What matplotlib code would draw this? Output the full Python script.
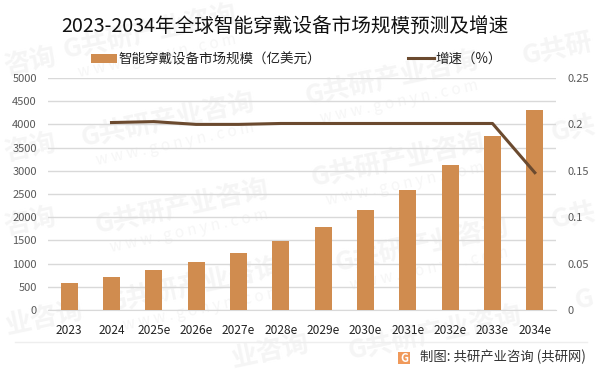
import matplotlib
matplotlib.use("Agg")
import matplotlib.pyplot as plt
from matplotlib.patches import FancyBboxPatch
import numpy as np

plt.rcParams['font.family'] = ['Noto Sans CJK SC', 'DejaVu Sans']

years = ['2023', '2024', '2025e', '2026e', '2027e', '2028e', '2029e', '2030e',
         '2031e', '2032e', '2033e', '2034e']
market_size = [590, 720, 865, 1035, 1230, 1487, 1790, 2155, 2590, 3115, 3750, 4310]
growth = [np.nan, 0.202, 0.203, 0.2, 0.2, 0.201, 0.201, 0.201, 0.201, 0.201, 0.201, 0.148]
left_ticks = [0, 500, 1000, 1500, 2000, 2500, 3000, 3500, 4000, 4500, 5000]
right_ticks = [0, 0.05, 0.1, 0.15, 0.2, 0.25]
right_labels = ['0', '0.05', '0.1', '0.15', '0.2', '0.25']

W, H = 601, 375
# watermark centres in pixels, the ones at the edges only show part of the text
marks = [(150, 32), (168, 120), (392, 78), (182, 207), (398, 160), (195, 285),
         (422, 245), (435, 333)]
www_marks = marks[:-1]
edge_marks = [('咨询', 30, 62), ('咨询', 30, 148), ('咨询', 30, 222), ('业咨询', 44, 318), ('业咨询', 270, 351),
              ('G共研', 558, 50), ('G共', 574, 130), ('G共', 574, 217), ('G', 584, 300)]

fig = plt.figure(figsize=(W / 100, H / 100), dpi=100)
ax = fig.add_axes([48 / W, 1 - 310 / H, (556 - 48) / W, (310 - 78) / H])
ax.patch.set_alpha(0)

for mx, my in marks:
    fig.text(mx / W, 1 - my / H, 'G共研产业咨询', fontsize=19, fontweight='bold', color='#f5f5f5',
             rotation=12, ha='center', va='center', zorder=-1)
for mx, my in www_marks:
    fig.text((mx + 7) / W, 1 - (my + 24) / H, 'w w w . g o n y n . c o m', fontsize=11, color='#f6f6f6',
             rotation=12, ha='center', va='center', zorder=-1)
for txt, mx, my in edge_marks:
    fig.text(mx / W, 1 - my / H, txt, fontsize=19, fontweight='bold', color='#f5f5f5',
             rotation=12, ha='center', va='center', zorder=-1)

x = np.arange(len(years))
bars = ax.bar(x, market_size, width=0.4, color='#D08C4F', zorder=3)
ax.set_xlim(-0.5, len(years) - 0.5)
ax.set_ylim(0, 5000)
ax.set_yticks(left_ticks)
ax.set_xticks(x)
ax.set_xticklabels(years)
ax.tick_params(axis='x', length=0, pad=10, labelsize=8.6, labelcolor='#222222')
ax.tick_params(axis='y', length=0, pad=8, labelsize=8, labelcolor='#595959')
ax.grid(axis='y', color='#d9d9d9', linewidth=1, zorder=0)
for s in ax.spines.values():
    s.set_visible(False)
ax.spines['bottom'].set_visible(True)
ax.spines['bottom'].set_color('#d9d9d9')

ax2 = ax.twinx()
ax2.patch.set_alpha(0)
line, = ax2.plot(x, growth, color='#6B4A2F', linewidth=2.2, zorder=4)
ax2.set_ylim(0, 0.25)
ax2.set_yticks(right_ticks)
ax2.set_yticklabels(right_labels)
ax2.tick_params(axis='y', length=0, pad=8.5, labelsize=8, labelcolor='#595959')
for s in ax2.spines.values():
    s.set_visible(False)

fig.text(285 / W, 1 - 27 / H, '2023-2034年全球智能穿戴设备市场规模预测及增速', fontsize=14.1,
         color='#111111', ha='center', va='center')
fig.legend([bars, line], ['智能穿戴设备市场规模（亿美元）', '增速（%）'], ncols=2, frameon=False,
           fontsize=9.75, loc='center', bbox_to_anchor=(296.5 / W, 1 - 59 / H), handlelength=1.9,
           handletextpad=0.15, columnspacing=6.4, labelcolor='#222222')

# footer
fig.add_artist(plt.Line2D([15 / W, 587 / W], [1 - 342 / H, 1 - 342 / H], color='#eeeeee', linewidth=1))
fig.add_artist(FancyBboxPatch((398 / W, 1 - 364 / H), 12 / W, 12 / H, boxstyle='round,pad=0',
                              transform=fig.transFigure, facecolor='#F0995A', edgecolor='none'))
fig.text(404 / W, 1 - 358 / H, 'G', fontsize=8, fontweight='bold', color='white', ha='center', va='center')
fig.text(420 / W, 1 - 357 / H, '制图: 共研产业咨询 (共研网)', fontsize=9.6, color='#333333', ha='left', va='center')

fig.savefig('out.png', dpi=100)
